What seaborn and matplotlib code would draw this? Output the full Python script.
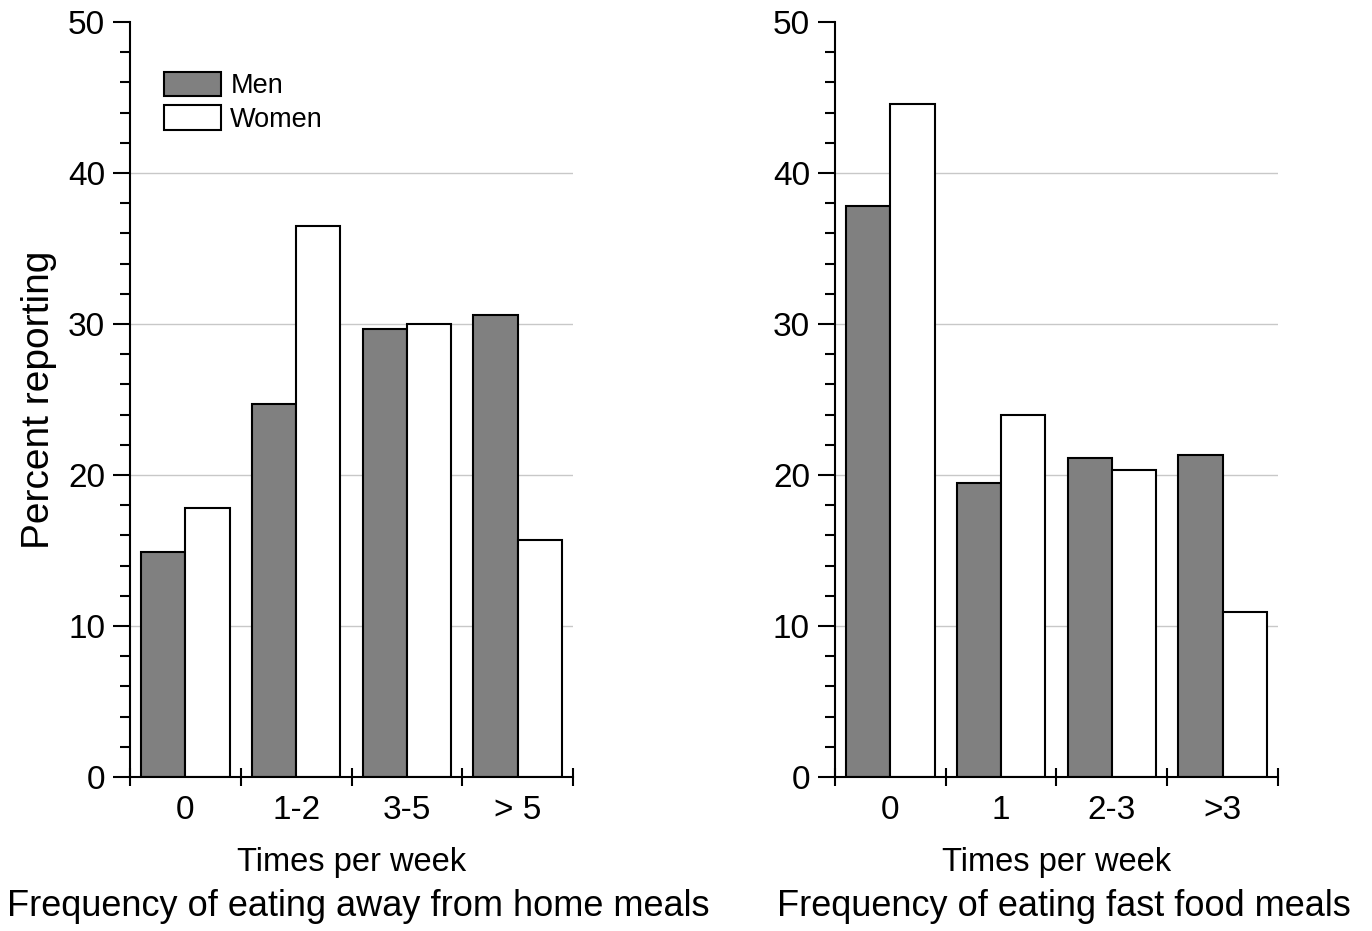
import pandas as pd
import seaborn as sns
import matplotlib.pyplot as plt
from matplotlib.patches import Patch
from matplotlib.ticker import MultipleLocator, FixedLocator

# --- dados ---
sexes = ["Men", "Women"]
away_categories = ["0", "1-2", "3-5", "> 5"]
away_men = [14.9, 24.7, 29.7, 30.6]
away_women = [17.8, 36.5, 30.0, 15.7]

fast_categories = ["0", "1", "2-3", ">3"]
fast_men = [37.8, 19.5, 21.1, 21.3]
fast_women = [44.6, 24.0, 20.3, 10.9]

grid_values = [10, 20, 30, 40]


def make_df(categories, men, women):
    return pd.DataFrame({
        "freq": categories * 2,
        "pct": men + women,
        "sex": ["Men"] * len(men) + ["Women"] * len(women),
    })


sns.set_style("ticks")
plt.rcParams['font.family'] = ['Liberation Sans', 'DejaVu Sans']
plt.rcParams['text.color'] = 'black'
plt.rcParams['axes.labelcolor'] = 'black'
plt.rcParams['xtick.color'] = 'black'
plt.rcParams['ytick.color'] = 'black'
plt.rcParams['axes.edgecolor'] = 'black'

colors = {"Men": "#808080", "Women": "#ffffff"}

fig = plt.figure(figsize=(13.72, 9.31), dpi=100)
ax1 = fig.add_axes([0.0948, 0.1654, 0.3228, 0.811])
ax2 = fig.add_axes([0.6086, 0.1654, 0.3228, 0.811])

panels = [
    (ax1, make_df(away_categories, away_men, away_women), away_categories,
     "Frequency of eating away from home meals"),
    (ax2, make_df(fast_categories, fast_men, fast_women), fast_categories,
     "Frequency of eating fast food meals"),
]

for ax, df, cats, title in panels:
    sns.barplot(data=df, x="freq", y="pct", hue="sex", order=cats,
                hue_order=sexes, palette=colors, edgecolor="black",
                linewidth=1.5, width=0.8, legend=False, ax=ax, zorder=2)
    for v in grid_values:
        ax.axhline(v, color="#c8c8c8", linewidth=1.0, zorder=0)
    ax.set_ylim(0, 50)
    ax.set_xlim(-0.5, len(cats) - 0.5)
    ax.yaxis.set_major_locator(MultipleLocator(10))
    ax.yaxis.set_minor_locator(MultipleLocator(2))
    ax.xaxis.set_minor_locator(FixedLocator([i - 0.5 for i in range(len(cats) + 1)]))
    ax.tick_params(axis="y", which="major", direction="out", length=12,
                   width=1.5, labelsize=24, pad=6)
    ax.tick_params(axis="y", which="minor", direction="out", length=7, width=1.5)
    ax.tick_params(axis="x", which="major", length=0, labelsize=24, pad=13)
    ax.tick_params(axis="x", which="minor", direction="inout", length=13, width=1.5)
    for s in ["top", "right"]:
        ax.spines[s].set_visible(False)
    for s in ["left", "bottom"]:
        ax.spines[s].set_linewidth(1.5)
    ax.set_xlabel("")
    ax.set_ylabel("")
    ax.text(0.5, -0.1126, "Times per week", transform=ax.transAxes,
            ha="center", va="center", fontsize=23.5)
    ax.text(0.516, -0.171, title, transform=ax.transAxes,
            ha="center", va="center", fontsize=26)

ax1.set_ylabel("Percent reporting", fontsize=28, labelpad=8)

handles = [Patch(facecolor=colors[s], edgecolor="black", linewidth=1.5, label=s)
           for s in sexes]
ax1.legend(handles=handles, loc="upper left", bbox_to_anchor=(0.052, 0.948),
           frameon=False, fontsize=19.5, handlelength=2.1, handleheight=1.0,
           labelspacing=0.22, handletextpad=0.35, borderaxespad=0)

plt.savefig("out.png", dpi=100)
